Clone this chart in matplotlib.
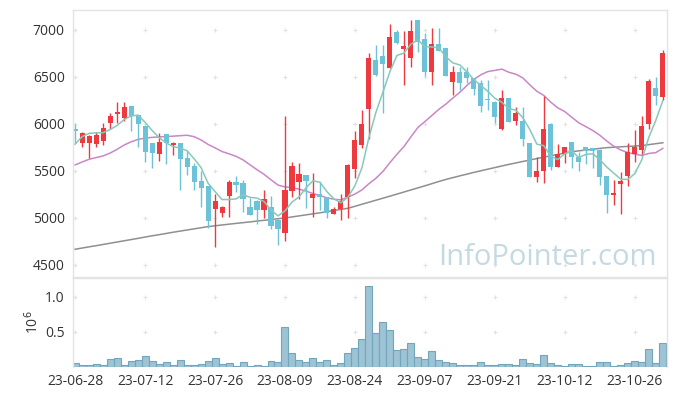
import matplotlib
matplotlib.use("Agg")
import matplotlib.pyplot as plt
import numpy as np
import pandas as pd

plt.rcParams['font.family'] = ['Open Sans', 'DejaVu Sans']

# ---- data ----
dates = pd.bdate_range("2023-06-28", "2023-11-01")
holidays = pd.to_datetime(["2023-08-15", "2023-09-28", "2023-09-29", "2023-10-02",
                           "2023-10-03", "2023-10-09"])
dates = [d for d in dates if d not in holidays]
date_labels = [d.strftime("%y-%m-%d") for d in dates]

opens = [5950, 5800, 5800, 5790, 5815, 6015, 6105, 6060, 6190, 6095,
         5980, 5800, 5680, 5890, 5780, 5795, 5635, 5555, 5395, 5340,
         5100, 5050, 5235, 5385, 5370, 5115, 5185, 5085, 5115, 4980,
         4845, 5290, 5385, 5455, 5210, 5260, 5220, 5045, 5090, 5220,
         5520, 5780, 6160, 6680, 6725, 6600, 6980, 6795, 6705, 7105,
         6905, 6550, 6850, 6805, 6450, 6555, 6555, 6485, 6435, 6265,
         6235, 5945, 6275, 6035, 6030, 5795, 5440, 5495, 6000, 5545,
         5685, 5805, 5645, 5750, 5740, 5725, 5445, 5245, 5360, 5445,
         5680, 5725, 5995, 6385, 6290]
highs = [6000, 5910, 5880, 5910, 6010, 6115, 6230, 6230, 6190, 6100,
         5980, 5800, 5900, 5895, 5805, 5800, 5725, 5585, 5495, 5345,
         5260, 5125, 5405, 5445, 5400, 5210, 5190, 5300, 5235, 4985,
         6085, 5590, 5580, 5460, 5475, 5385, 5225, 5120, 5260, 5570,
         5930, 6150, 6750, 6835, 6835, 7060, 7000, 6985, 7105, 7110,
         6965, 7025, 7020, 6810, 6615, 6610, 6610, 6490, 6470, 6470,
         6240, 6360, 6280, 6185, 6185, 5800, 5650, 6300, 6005, 5785,
         5755, 5810, 5705, 5755, 5745, 5730, 5450, 5405, 5490, 5800,
         5935, 6085, 6475, 6500, 6785]
lows = [5800, 5750, 5640, 5750, 5775, 5945, 6015, 6035, 5920, 5760,
        5600, 5535, 5610, 5575, 5665, 5300, 5455, 5300, 5120, 4890,
        4695, 5005, 5005, 5280, 5065, 5030, 4935, 5000, 4880, 4715,
        4750, 5220, 5200, 5105, 5015, 5080, 5000, 5040, 4980, 5000,
        5420, 5740, 5840, 6515, 6115, 6590, 6855, 6410, 6610, 6770,
        6505, 6415, 6775, 6505, 6310, 6360, 6435, 6310, 6130, 6150,
        6015, 5940, 6020, 5990, 5765, 5435, 5385, 5375, 5510, 5540,
        5580, 5530, 5495, 5575, 5530, 5350, 5050, 5140, 5045, 5345,
        5590, 5670, 5945, 6200, 6255]
closes = [5920, 5905, 5870, 5885, 5955, 6085, 6125, 6180, 6080, 6000,
          5705, 5690, 5805, 5795, 5800, 5630, 5545, 5385, 5320, 4970,
          5185, 5120, 5385, 5355, 5200, 5035, 5085, 5200, 4910, 4880,
          5300, 5555, 5470, 5395, 5260, 5220, 5050, 5090, 5185, 5565,
          5830, 6000, 6705, 6520, 6640, 6920, 6860, 6830, 6990, 6875,
          6550, 6850, 6780, 6510, 6555, 6440, 6485, 6370, 6190, 6250,
          6070, 6275, 6025, 6115, 5845, 5440, 5500, 5945, 5545, 5680,
          5750, 5645, 5590, 5715, 5715, 5440, 5245, 5265, 5395, 5705,
          5750, 5980, 6455, 6300, 6750]
volumes = [0.057, 0.029, 0.029, 0.043, 0.029, 0.114, 0.129, 0.029, 0.086, 0.105,
           0.157, 0.086, 0.043, 0.071, 0.029, 0.100, 0.029, 0.029, 0.043, 0.086,
           0.129, 0.043, 0.057, 0.014, 0.071, 0.014, 0.029, 0.014, 0.086, 0.076,
           0.571, 0.200, 0.100, 0.071, 0.129, 0.076, 0.100, 0.029, 0.057, 0.200,
           0.271, 0.400, 1.162, 0.486, 0.643, 0.529, 0.243, 0.257, 0.343, 0.143,
           0.114, 0.229, 0.100, 0.071, 0.057, 0.029, 0.029, 0.029, 0.071, 0.029,
           0.029, 0.043, 0.043, 0.029, 0.114, 0.057, 0.043, 0.171, 0.057, 0.029,
           0.014, 0.043, 0.043, 0.014, 0.014, 0.071, 0.071, 0.014, 0.029, 0.057,
           0.086, 0.071, 0.257, 0.057, 0.343]  # millions
# moving-average values before enough history is in the window
ma5_head = [5785, 5865, 5900, 5905]
ma20_head = [5564, 5595, 5624, 5642, 5660, 5690, 5730, 5775, 5810, 5835,
             5850, 5857, 5862, 5865, 5870, 5875, 5880, 5865, 5830]
ma120 = [4667, 4680, 4693, 4705, 4718, 4731, 4744, 4757, 4770, 4783,
         4797, 4810, 4822, 4835, 4848, 4860, 4872, 4884, 4896, 4908,
         4917, 4925, 4934, 4942, 4950, 4958, 4967, 4975, 4983, 4992,
         5000, 5011, 5022, 5033, 5044, 5055, 5067, 5079, 5091, 5103,
         5124, 5146, 5167, 5189, 5210, 5232, 5254, 5276, 5298, 5320,
         5342, 5365, 5388, 5410, 5429, 5448, 5466, 5485, 5502, 5519,
         5536, 5553, 5570, 5585, 5601, 5616, 5632, 5647, 5661, 5676,
         5690, 5705, 5714, 5722, 5731, 5740, 5748, 5752, 5757, 5761,
         5765, 5770, 5780, 5790, 5800]
price_ticks = [4500, 5000, 5500, 6000, 6500, 7000]
vol_ticks = [0.5, 1.0]
x_tick_idx = list(range(0, len(dates), 10))

# ---- derived ----
n = len(closes)
x = np.arange(n)
cs = pd.Series(closes, dtype=float)
ma5 = cs.rolling(5).mean().values
ma5[:4] = ma5_head
ma20 = cs.rolling(20).mean().values
ma20[:19] = ma20_head

UP = '#ee3a3f'
DOWN = '#6cc3d9'
GRID = '#e2e2e2'
SPINE = '#e3e3e3'

fig = plt.figure(figsize=(6.77, 3.96), dpi=100)
ax = fig.add_axes([73/677, 1-277/396, 594/677, 267/396])
axv = fig.add_axes([73/677, 1-367/396, 594/677, 89/396], sharex=ax)

# grid crosses
for a, yt in ((ax, price_ticks), (axv, vol_ticks)):
    gx, gy = np.meshgrid(x_tick_idx, yt)
    a.scatter(gx.ravel(), gy.ravel(), marker='+', s=12, color=GRID, linewidths=0.8, zorder=0)

# moving averages
ax.plot(x, ma120, color='#8f8f8f', lw=1.1, zorder=1)
ax.plot(x, ma20, color='#c987c6', lw=1.1, zorder=1)
ax.plot(x, ma5, color='#86c9bb', lw=1.1, zorder=3)

# candles
for i in range(n):
    o, h, l, c = opens[i], highs[i], lows[i], closes[i]
    col = UP if c >= o else DOWN
    ax.vlines(i, l, h, color=col, lw=1.0, zorder=2)
    bot = min(o, c)
    hgt = max(abs(c - o), 8)
    ax.bar(i, hgt, bottom=bot, width=0.72, color=col, linewidth=0, zorder=2)

ax.set_xlim(-0.3, 84.6)
ax.set_ylim(4372, 7212)
ax.set_yticks(price_ticks)
ax.set_yticklabels([str(v) for v in price_ticks])
ax.tick_params(axis='y', length=0, labelsize=10, colors='#333333', pad=6)
ax.tick_params(axis='x', length=0, labelbottom=False)
for s in ax.spines.values():
    s.set_color(SPINE)
    s.set_linewidth(1.0)

ax.text(0.982, 0.02, 'InfoPointer.com', transform=ax.transAxes, ha='right', va='bottom',
        fontsize=21, color='#c5d9e3', zorder=0)

# volume
axv.bar(x, volumes, width=1.0, color='#9dc3d4', edgecolor='#72a6bd', linewidth=0.8, zorder=2)
axv.set_ylim(0, 1.27)
axv.set_yticks(vol_ticks)
axv.set_yticklabels(['0.5', '1.0'])
axv.tick_params(axis='y', length=0, labelsize=10, colors='#333333', pad=6)
axv.set_xticks(x_tick_idx)
axv.set_xticklabels([date_labels[i] for i in x_tick_idx])
axv.tick_params(axis='x', length=0, labelsize=10, colors='#333333', pad=5)
axv.set_ylabel('10$^6$', fontsize=10, color='#333333', labelpad=2)
for s in axv.spines.values():
    s.set_color(SPINE)
    s.set_linewidth(1.0)
axv.spines['bottom'].set_visible(False)

fig.savefig('out.png', dpi=100, facecolor='white')
